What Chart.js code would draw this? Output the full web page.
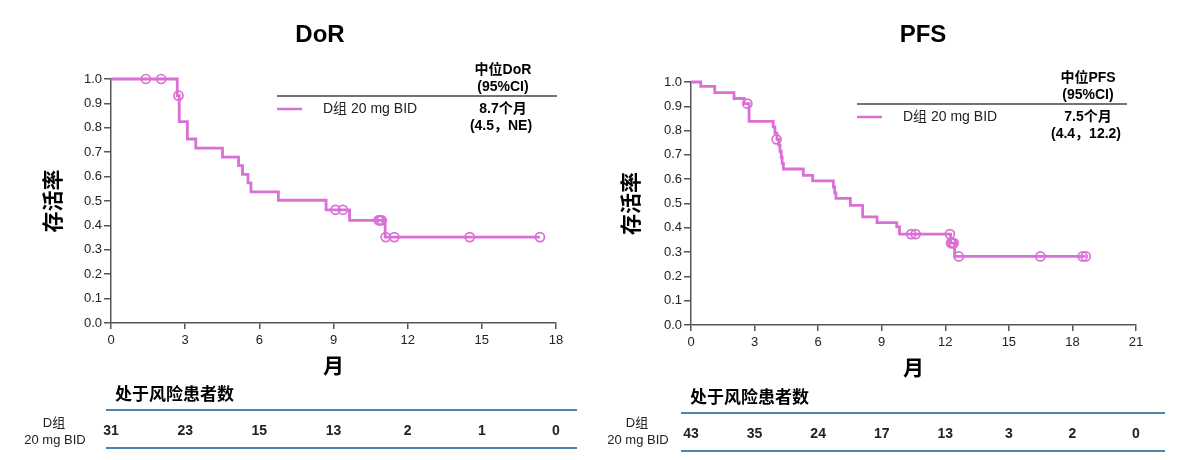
<!DOCTYPE html>
<html>
<head>
<meta charset="utf-8">
<script src="https://cdn.jsdelivr.net/npm/chart.js@4.4.1/dist/chart.umd.min.js"></script>
<style>
  body { margin: 0; background: #fff; }
  #wrap { position: relative; width: 1185px; height: 460px; }
  .box { position: absolute; top: 0; height: 460px; }
</style>
</head>
<body>
<div id="wrap">
  <div class="box" style="left:0;width:592px"><canvas id="dorChart" width="592" height="460"></canvas></div>
  <div class="box" style="left:592px;width:593px"><canvas id="pfsChart" width="593" height="460"></canvas></div>
</div>
<script>
/* datos */
const dorTimes = [0, 2.68, 2.76, 3.09, 3.43, 4.51, 5.16, 5.32, 5.54, 5.66, 6.77, 8.70, 9.65, 11.09, 17.35];
const dorSurv = [1, 0.932, 0.825, 0.754, 0.717, 0.680, 0.645, 0.609, 0.574, 0.537, 0.503, 0.464, 0.421, 0.352, 0.352];
const dorCensorT = [1.41, 2.03, 2.73, 9.08, 9.38, 10.82, 10.88, 10.95, 11.11, 11.46, 14.51, 17.35];
const dorCensorS = [1, 1, 0.932, 0.464, 0.464, 0.421, 0.421, 0.421, 0.352, 0.352, 0.352, 0.352];
const dorRiskAt = [0, 3, 6, 9, 12, 15, 18];
const dorRisk = [31, 23, 15, 13, 2, 1, 0];

const pfsTimes = [0, 0.46, 1.12, 2.03, 2.51, 2.74, 3.88, 3.96, 4.06, 4.14, 4.20, 4.26, 4.30, 4.36, 5.30, 5.74, 6.72, 6.78, 6.84, 7.52, 8.10, 8.78, 9.71, 9.84, 12.25, 12.44, 18.63];
const pfsSurv = [1, 0.982, 0.956, 0.932, 0.911, 0.838, 0.815, 0.790, 0.764, 0.740, 0.715, 0.690, 0.665, 0.642, 0.616, 0.593, 0.568, 0.544, 0.521, 0.492, 0.445, 0.421, 0.404, 0.374, 0.337, 0.282, 0.282];
const pfsCensorT = [2.66, 4.04, 10.39, 10.60, 12.22, 12.27, 12.33, 12.40, 12.64, 16.49, 18.48, 18.63];
const pfsCensorS = [0.911, 0.764, 0.374, 0.374, 0.374, 0.337, 0.337, 0.337, 0.282, 0.282, 0.282, 0.282];
const pfsRiskAt = [0, 3, 6, 9, 12, 15, 18, 21];
const pfsRisk = [43, 35, 24, 17, 13, 3, 2, 0];

const yTicks = [0, 0.1, 0.2, 0.3, 0.4, 0.5, 0.6, 0.7, 0.8, 0.9, 1.0];

const KM_COLOR = '#DA70D6';
const AXIS_COLOR = '#555';
const FONT = "'Liberation Sans', Arial, 'Noto Sans CJK SC', sans-serif";

function toPoints(xs, ys) {
  let pts = [];
  for (let i = 0; i < xs.length; i++) pts.push({ x: xs[i], y: ys[i] });
  return pts;
}

// textos: título, leyenda con mediana y tabla de pacientes en riesgo
function annotPlugin(o) {
  return {
    id: 'annot',
    afterDraw(chart) {
      const ctx = chart.ctx;
      const xs = chart.scales.x;
      ctx.save();
      ctx.textBaseline = 'middle';
      ctx.fillStyle = '#000';

      ctx.textAlign = 'center';
      ctx.font = 'bold 24px ' + FONT;
      ctx.fillText(o.title, o.titleX, 35);

      // leyenda
      ctx.font = 'bold 14px ' + FONT;
      ctx.fillText(o.head, o.medX, o.legY - 39);
      ctx.fillText('(95%CI)', o.medX, o.legY - 22);
      ctx.strokeStyle = '#444';
      ctx.lineWidth = 1.5;
      ctx.beginPath();
      ctx.moveTo(o.legX, o.legY - 13);
      ctx.lineTo(o.legEnd, o.legY - 13);
      ctx.stroke();
      ctx.strokeStyle = KM_COLOR;
      ctx.lineWidth = 2.5;
      ctx.beginPath();
      ctx.moveTo(o.legX, o.legY);
      ctx.lineTo(o.legX + 25, o.legY);
      ctx.stroke();
      ctx.fillText(o.median, o.medX, o.legY);
      ctx.fillText(o.ci, o.medX - 2, o.legY + 17);
      ctx.textAlign = 'left';
      ctx.font = '14px ' + FONT;
      ctx.fillStyle = '#222';
      ctx.fillText('D组 20 mg BID', o.legX + 46, o.legY);

      // tabla de riesgo
      ctx.fillStyle = '#000';
      ctx.font = 'bold 17px ' + FONT;
      ctx.fillText('处于风险患者数', o.tabX + 9, o.tabY - 15);
      ctx.strokeStyle = '#4f84aa';
      ctx.lineWidth = 2;
      ctx.beginPath();
      ctx.moveTo(o.tabX, o.tabY);
      ctx.lineTo(o.tabEnd, o.tabY);
      ctx.moveTo(o.tabX, o.tabY + 38);
      ctx.lineTo(o.tabEnd, o.tabY + 38);
      ctx.stroke();
      ctx.textAlign = 'center';
      ctx.font = '13px ' + FONT;
      ctx.fillStyle = '#222';
      ctx.fillText('D组', o.rowX - 1, 423);
      ctx.fillText('20 mg BID', o.rowX, 440);
      ctx.font = 'bold 14px ' + FONT;
      for (let i = 0; i < o.riskAt.length; i++) {
        ctx.fillText(String(o.risk[i]), xs.getPixelForValue(o.riskAt[i]), o.tabY + 21);
      }
      ctx.restore();
    }
  };
}

function makeKM(canvasId, times, surv, censT, censS, xMax, pad, yWidth, xHeight, annot) {
  const ctx = document.getElementById(canvasId).getContext('2d');
  const config = {
    type: 'line',
    data: {
      datasets: [{
        data: toPoints(times, surv),
        stepped: true,
        borderColor: KM_COLOR,
        borderWidth: 2.8,
        pointRadius: 0,
        fill: false,
        clip: false
      }, {
        type: 'scatter',
        data: toPoints(censT, censS),
        showLine: false,
        pointRadius: 4.5,
        pointBorderWidth: 1.7,
        pointBorderColor: KM_COLOR,
        pointBackgroundColor: 'rgba(0,0,0,0)',
        clip: false
      }]
    },
    options: {
      responsive: false,
      animation: false,
      layout: { padding: pad },
      plugins: { legend: { display: false }, tooltip: { enabled: false } },
      scales: {
        x: {
          type: 'linear',
          min: 0,
          max: xMax,
          ticks: { stepSize: 3, color: '#222', padding: 4, font: { family: FONT, size: 13 } },
          grid: { drawOnChartArea: false, tickLength: 6, color: AXIS_COLOR, lineWidth: 1.5 },
          border: { color: AXIS_COLOR, width: 1.5 },
          title: { display: true, text: '月', color: '#000', font: { family: FONT, size: 21, weight: 'bold' } },
          afterFit: function (scale) { scale.height = xHeight; }
        },
        y: {
          type: 'linear',
          min: 0,
          max: 1,
          afterBuildTicks: function (scale) { scale.ticks = yTicks.map(v => ({ value: v })); },
          ticks: { color: '#222', padding: 2, font: { family: FONT, size: 13 }, callback: v => v.toFixed(1) },
          grid: { drawOnChartArea: false, tickLength: 7, color: AXIS_COLOR, lineWidth: 1.5 },
          border: { color: AXIS_COLOR, width: 1.5 },
          title: { display: true, text: '存活率', color: '#000', font: { family: FONT, size: 21, weight: 'bold' } },
          afterFit: function (scale) { scale.width = yWidth; }
        }
      }
    },
    plugins: [annotPlugin(annot)]
  };
  return new Chart(ctx, config);
}

makeKM('dorChart', dorTimes, dorSurv, dorCensorT, dorCensorS, 18,
  { left: 38, top: 79, right: 36, bottom: 76 }, 73, 61,
  { title: 'DoR', titleX: 320, head: '中位DoR', median: '8.7个月', ci: '(4.5，NE)',
    medX: 503, legX: 277, legEnd: 557, legY: 109,
    tabX: 106, tabEnd: 577, tabY: 410, rowX: 55, riskAt: dorRiskAt, risk: dorRisk });

makeKM('pfsChart', pfsTimes, pfsSurv, pfsCensorT, pfsCensorS, 21,
  { left: 24, top: 82, right: 49, bottom: 74 }, 75, 61,
  { title: 'PFS', titleX: 331, head: '中位PFS', median: '7.5个月', ci: '(4.4，12.2)',
    medX: 496, legX: 265, legEnd: 535, legY: 117,
    tabX: 89, tabEnd: 573, tabY: 413, rowX: 46, riskAt: pfsRiskAt, risk: pfsRisk });
</script>
</body>
</html>
